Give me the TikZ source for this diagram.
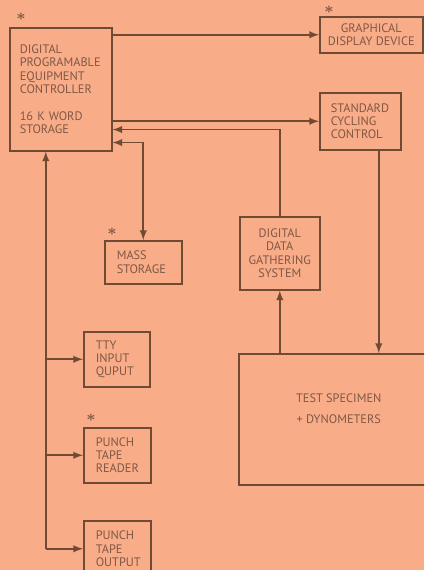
\documentclass[tikz,border=0pt]{standalone}
\usepackage{fontspec}
\setmainfont{PT Sans}
\definecolor{peach}{RGB}{248,172,136}
\definecolor{linebrown}{RGB}{112,74,50}
\definecolor{inkbrown}{RGB}{128,88,70}

\begin{document}
\begin{tikzpicture}[>=latex, x=0.02cm, y=-0.02cm,  % 一个单位 = 原图一个像素, y 向下
    box/.style={draw=linebrown, line width=0.9pt, anchor=north west, inner sep=0pt,
                text=inkbrown, font=\fontsize{7}{7.6}\selectfont},
    link/.style={draw=linebrown, line width=0.9pt},
    ast/.style={inner sep=0pt, text=inkbrown, font=\fontsize{9}{9}\selectfont\boldmath}]
    % 底色和边界
    \useasboundingbox (0,0) rectangle (424,570);
    \fill[peach] (0,0) rectangle (424,570);
    \clip (0,0) rectangle (424,570);

    % 方框 node,anchor=north west 放在左上角
    \node[box, minimum height=2.46cm, text width=1.64cm, inner xsep=0.2cm, align=left] (ctrl) at (9,27)
        {DIGITAL\\PROGRAMABLE\\EQUIPMENT\\CONTROLLER\\[7.8pt]16 K WORD\\STORAGE};
    \node[box, minimum width=2.06cm, minimum height=0.72cm, align=center] (gdd) at (319,16)
        {GRAPHICAL\\DISPLAY DEVICE};
    \node[box, minimum height=1.14cm, text width=1.18cm, inner xsep=0.22cm, align=left] (scc) at (319,92)
        {STANDARD\\CYCLING\\CONTROL};
    \node[box, minimum height=0.86cm, text width=1.06cm, inner xsep=0.24cm, align=left] (mass) at (104,240)
        {MASS\\STORAGE};
    \node[box, minimum width=1.6cm, minimum height=1.46cm, align=center] (ddg) at (239,216)
        {DIGITAL\\DATA\\GATHERING\\SYSTEM};
    \node[box, minimum width=4cm, minimum height=2.62cm, text depth=12pt, align=center] (test) at (238,353)
        {TEST SPECIMEN\\[4pt]+ DYNOMETERS};
    \node[box, minimum height=1.1cm, text width=0.84cm, inner xsep=0.24cm, align=left] (tty) at (83,331)
        {TTY\\INPUT\\QUPUT};
    \node[box, minimum height=1.1cm, text width=0.86cm, inner xsep=0.24cm, align=left] (ptr) at (83,427)
        {PUNCH\\TAPE\\READER};
    \node[box, minimum height=1.12cm, text width=0.86cm, inner xsep=0.24cm, align=left] (pto) at (83,520)
        {PUNCH\\TAPE\\OUTPUT};

    % 星号
    \node[ast] (ctrlast) at ([shift={(0.24cm,0.2cm)}]ctrl.north west) {$\ast$};
    \node[ast] (gddast) at ([shift={(0.2cm,0.13cm)}]gdd.north west) {$\ast$};
    \node[ast] (massast) at ([shift={(0.16cm,0.16cm)}]mass.north west) {$\ast$};
    \node[ast] (ptrast) at ([shift={(0.16cm,0.18cm)}]ptr.north west) {$\ast$};

    % 连线
    \draw[link, ->] (ctrl.east |- gdd.west) -- (gdd.west);
    \draw[link, ->] (ctrl.east |- scc.west) -- (scc.west);
    \draw[link, ->] (ddg.north) |- ([yshift=0.44cm]ctrl.south east);
    \draw[link, <->] ([yshift=0.18cm]ctrl.south east) -| (mass.north);
    \draw[link, ->] ([xshift=0.37cm]scc.south) -- ([xshift=0.37cm]scc.south |- test.north);
    \draw[link, ->] (ddg.south |- test.north) -- (ddg.south);

    % 左边的总线
    \coordinate (bus) at ([xshift=-0.3cm]ctrl.south);
    \draw[link, ->] (bus |- pto.west) -- (bus);
    \draw[link, ->] (bus |- tty.west) -- (tty.west);
    \draw[link, ->] (bus |- ptr.west) -- (ptr.west);
    \draw[link, ->] (bus |- pto.west) -- (pto.west);
\end{tikzpicture}
\end{document}
